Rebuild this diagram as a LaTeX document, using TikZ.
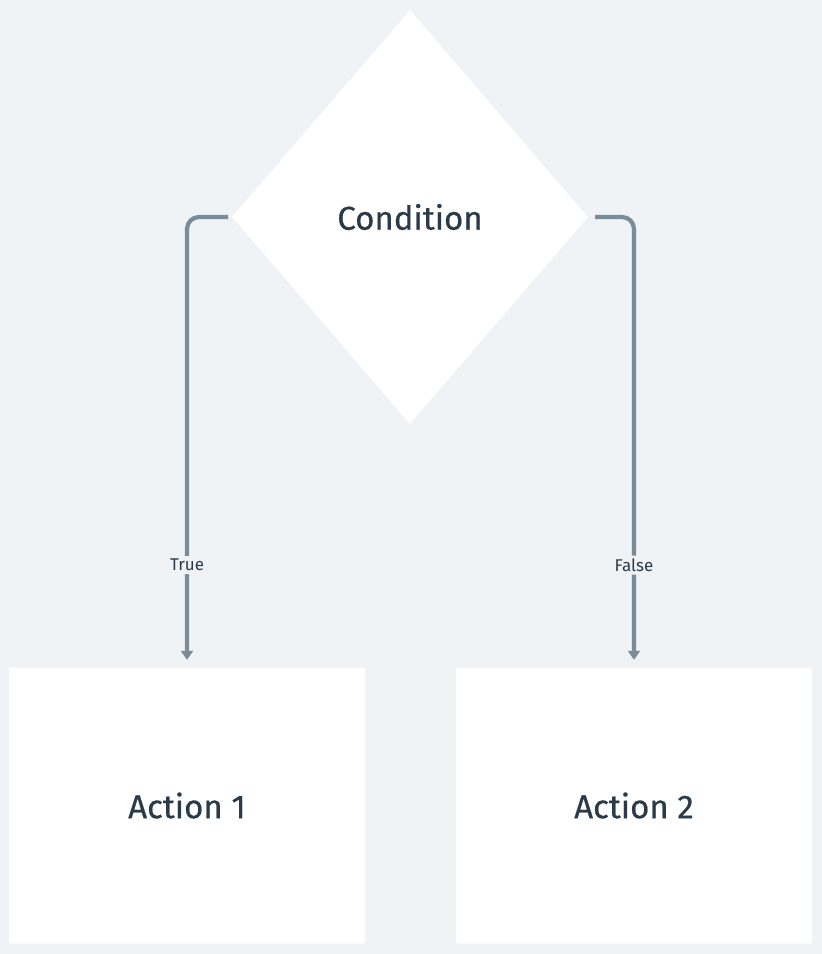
\documentclass[tikz,border=0pt]{standalone}
\usepackage{fontspec}
\setmainfont{Fira Sans}
\newfontfamily\midfont{Fira Sans}[FakeBold=0.5]
\usetikzlibrary{shapes.geometric,arrows.meta}
\definecolor{bg}{HTML}{EFF3F6}
\definecolor{edge}{HTML}{7A8B9A}
\definecolor{txt}{HTML}{2B3A48}
\tikzset{
  bigtext/.style={text=txt,font=\midfont\fontsize{33}{38}\selectfont},
  decision/.style={diamond,fill=white,draw=none,minimum width=356pt,minimum height=414pt,inner sep=0pt},
  actionbox/.style={rectangle,rounded corners=2pt,fill=white,draw=none,minimum width=356pt,minimum height=276pt,inner sep=0pt,bigtext},
  flow/.style={draw=edge,line width=4.2pt,rounded corners=12pt,-{Triangle[length=9pt,width=12pt]}},
  lbl/.style={fill=bg,text=txt,inner sep=3pt,font=\fontsize{17}{20}\selectfont}
}
\begin{document}
\begin{tikzpicture}[x=1pt,y=-1pt]
\fill[bg] (0,0) rectangle (822,954);
\useasboundingbox (0,0) rectangle (822,954);
\node[decision] (cond) at (410,217) {};
\node[bigtext] (condtxt) at (410,217) {Condition};
\node[actionbox] (a1) at (187,805.5) {Action 1};
\node[actionbox] (a2) at (634,805.5) {Action 2};
\coordinate (l1) at (228,217);
\coordinate (r1) at (595,217);
\draw[flow] (l1) -- (187,217) -- ([yshift=7.5pt]a1.north -| 187,0) node[lbl,pos=0.786] {True};
\draw[flow] (r1) -- (634,217) -- ([yshift=7.5pt]a2.north -| 634,0) node[lbl,pos=0.786] {False};
\end{tikzpicture}
\end{document}
